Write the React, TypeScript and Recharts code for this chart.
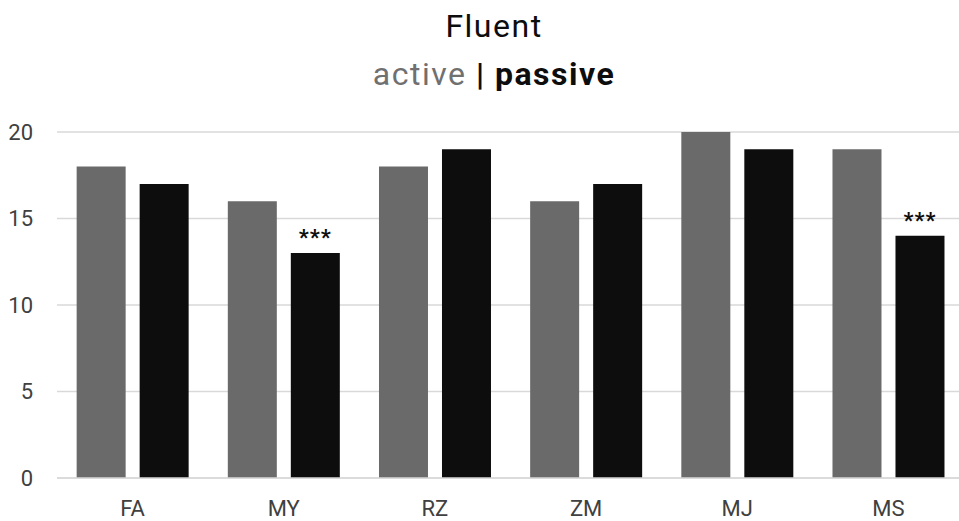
import { Bar, BarChart, CartesianGrid, LabelList, XAxis, YAxis } from "recharts"

const speakers = ["FA", "MY", "RZ", "ZM", "MJ", "MS"]
const activeScores = [18, 16, 18, 16, 20, 19]
const passiveScores = [17, 13, 19, 17, 19, 14]
const significance = ["", "***", "", "", "", "***"]
const yTicks = [0, 5, 10, 15, 20]

const font = "Roboto, 'Noto Sans', sans-serif"

const StarLabel = (props: any) => {
    const { x, y, width, index } = props
    const mark = significance[index]
    if (!mark) return null
    return <text x={x + width / 2} y={y - 8} textAnchor="middle" fontFamily={font} fontWeight="bold" fontSize={22} letterSpacing={1} fill="#0d0d0d">{mark}</text>
}

const App = () => {
    const data = speakers.map((s, i) => ({ name: s, active: activeScores[i], passive: passiveScores[i] }))
    return <div style={{ position: "absolute", left: 0, top: 0, width: 959, height: 521, overflow: "hidden", background: "#fff", fontFamily: font }}>
        <div style={{ position: "absolute", left: 0, width: 988, top: 6, textAlign: "center", fontSize: 32, letterSpacing: 1.5, color: "#0d0d0d", lineHeight: "40px" }}>Fluent</div>
        <div style={{ position: "absolute", left: 0, width: 988, top: 54, textAlign: "center", fontSize: 32, letterSpacing: 1.5, lineHeight: "40px" }}>
            <span style={{ color: "#707070" }}>active</span>
            <span style={{ color: "#0d0d0d", fontWeight: "bold" }}> | passive</span>
        </div>
        <BarChart width={964} height={521} data={data} margin={{ top: 132, right: 0, bottom: 13, left: 0 }}
            barCategoryGap="13%" barGap={14}>
            <CartesianGrid vertical={false} stroke="#d9d9d9" strokeWidth={1.5} />
            <XAxis dataKey="name" axisLine={{ stroke: "#d9d9d9", strokeWidth: 1.5 }} tickLine={false} tickSize={0} tickMargin={22}
                height={30} tick={{ fontFamily: font, fontSize: 22, fill: "#404040" }} />
            <YAxis domain={[0, 20]} ticks={yTicks} width={57} axisLine={false} tickLine={false} tickSize={0} tickMargin={24}
                tick={{ fontFamily: font, fontSize: 22, fill: "#404040" }} />
            <Bar dataKey="active" fill="#6a6a6a" isAnimationActive={false} />
            <Bar dataKey="passive" fill="#0d0d0d" isAnimationActive={false}>
                <LabelList dataKey="passive" content={StarLabel} />
            </Bar>
        </BarChart>
    </div>
}

export default App
